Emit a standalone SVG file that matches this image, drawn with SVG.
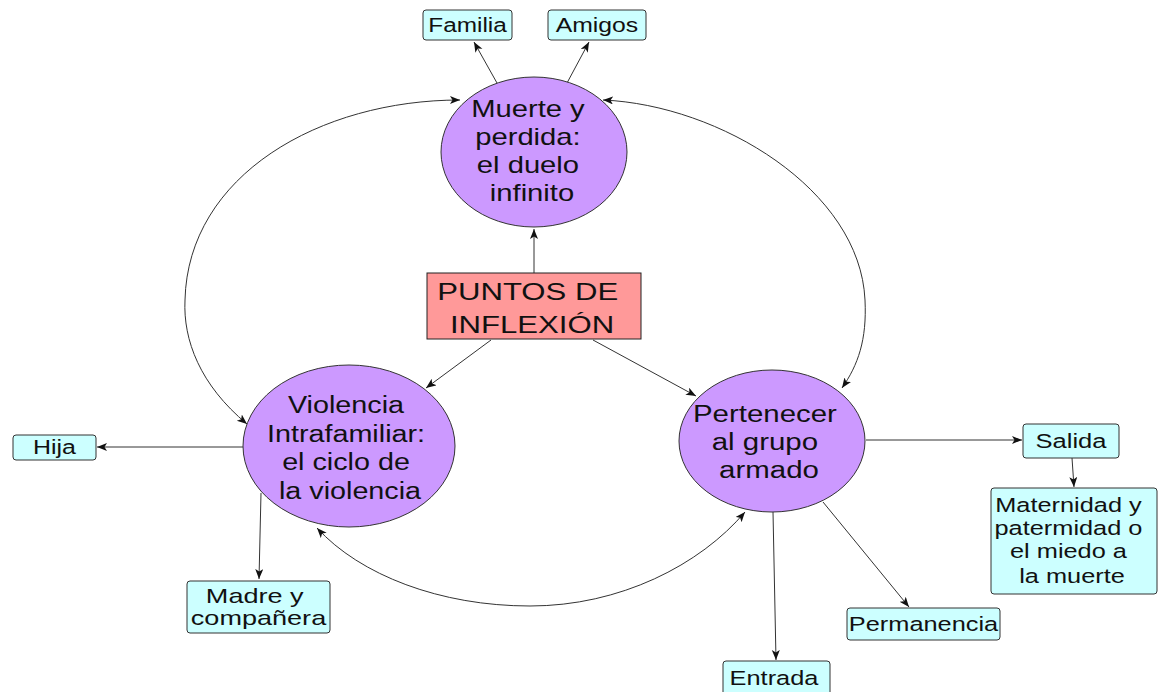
<svg xmlns="http://www.w3.org/2000/svg" width="1160" height="692" viewBox="0 0 1160 692">
<style>
  .ell { fill: #cc99ff; stroke: #333; stroke-width: 1; }
  .box { fill: #ccffff; stroke: #333; stroke-width: 1; }
  .root { fill: #ff9999; stroke: #222; stroke-width: 1; }
  .t { font-family: "Liberation Sans", Arial, sans-serif; fill: #111; text-anchor: middle; }
  .big { font-size: 23px; }
  .sm { font-size: 19.5px; }
  .conn path, .conn line { fill: none; stroke: #333; stroke-width: 1; }
</style>
<defs>
  <marker id="ah" markerUnits="userSpaceOnUse" markerWidth="12" markerHeight="10" refX="10" refY="4" orient="auto-start-reverse">
    <path d="M0,0 L10,4 L0,8 L2.5,4 z" fill="#111"/>
  </marker>
</defs>
<rect width="1160" height="692" fill="#fff"/>

<g class="conn">
  <line x1="534" y1="273" x2="534" y2="229" marker-end="url(#ah)"/>
  <line x1="491" y1="340" x2="426" y2="388" marker-end="url(#ah)"/>
  <line x1="593" y1="340" x2="696" y2="396" marker-end="url(#ah)"/>
  <line x1="497" y1="83" x2="474" y2="42" marker-end="url(#ah)"/>
  <line x1="567" y1="83" x2="589" y2="42" marker-end="url(#ah)"/>
  <path d="M 247 424 C 200 385, 183 340, 185 300 C 188 175, 320 100, 460 100" marker-start="url(#ah)" marker-end="url(#ah)"/>
  <path d="M 603 100 C 720 105, 860 190, 865 300 C 867 340, 858 365, 842 388" marker-start="url(#ah)" marker-end="url(#ah)"/>
  <path d="M 317 528 C 360 575, 440 606, 530 606 C 620 606, 700 565, 745 512" marker-start="url(#ah)" marker-end="url(#ah)"/>
  <line x1="243" y1="447" x2="97" y2="447" marker-end="url(#ah)"/>
  <line x1="261" y1="493" x2="259" y2="579" marker-end="url(#ah)"/>
  <line x1="866" y1="440" x2="1022" y2="440" marker-end="url(#ah)"/>
  <line x1="1072" y1="458" x2="1074" y2="487" marker-end="url(#ah)"/>
  <line x1="773" y1="512" x2="776" y2="660" marker-end="url(#ah)"/>
  <line x1="823" y1="502" x2="909" y2="607" marker-end="url(#ah)"/>
</g>

<g id="familia">
  <rect class="box" x="423" y="10" width="89" height="30" rx="3"/>
  <text class="t sm" transform="translate(467.5,0) scale(1.25,1)"><tspan x="0" y="32">Familia</tspan></text>
</g>
<g id="amigos">
  <rect class="box" x="548" y="10" width="98" height="30" rx="3"/>
  <text class="t sm" transform="translate(597,0) scale(1.27,1)"><tspan x="0" y="32">Amigos</tspan></text>
</g>
<g id="muerte">
  <ellipse class="ell" cx="534" cy="152" rx="93" ry="75"/>
  <text class="t big" transform="translate(532,0) scale(1.27,1)">
    <tspan x="0" y="117">Muerte y</tspan>
    <tspan x="0" y="145">perdida:</tspan>
    <tspan x="0" y="173">el duelo</tspan>
    <tspan x="0" y="201">infinito</tspan>
  </text>
</g>
<g id="puntos">
  <rect class="root" x="427" y="273" width="214" height="66"/>
  <text class="t" font-size="24.5" transform="translate(532,0) scale(1.27,1)">
    <tspan x="0" y="300">PUNTOS DE</tspan>
    <tspan x="0" y="333">INFLEXIÓN</tspan>
  </text>
</g>
<g id="violencia">
  <ellipse class="ell" cx="349" cy="446" rx="106" ry="81"/>
  <text class="t big" transform="translate(350,0) scale(1.25,1)">
    <tspan x="0" y="413">Violencia</tspan>
    <tspan x="0" y="442">Intrafamiliar:</tspan>
    <tspan x="0" y="470.5">el ciclo de</tspan>
    <tspan x="0" y="499">la violencia</tspan>
  </text>
</g>
<g id="pertenecer">
  <ellipse class="ell" cx="772" cy="441" rx="93" ry="71"/>
  <text class="t big" transform="translate(769,0) scale(1.28,1)">
    <tspan x="0" y="422">Pertenecer</tspan>
    <tspan x="0" y="450">al grupo</tspan>
    <tspan x="0" y="478">armado</tspan>
  </text>
</g>
<g id="hija">
  <rect class="box" x="13" y="435" width="83" height="25" rx="3"/>
  <text class="t sm" transform="translate(54.5,0) scale(1.28,1)"><tspan x="0" y="454">Hija</tspan></text>
</g>
<g id="madre">
  <rect class="box" x="187" y="581" width="143" height="52" rx="3"/>
  <text class="t" font-size="20.5" transform="translate(258.5,0) scale(1.32,1)">
    <tspan x="0" y="603">Madre y</tspan>
    <tspan x="0" y="625">compañera</tspan>
  </text>
</g>
<g id="salida">
  <rect class="box" x="1023" y="424" width="96" height="34" rx="3"/>
  <text class="t sm" transform="translate(1071,0) scale(1.31,1)"><tspan x="0" y="448">Salida</tspan></text>
</g>
<g id="maternidad">
  <rect class="box" x="991" y="488" width="166" height="106" rx="3"/>
  <text class="t sm" transform="translate(1072,0) scale(1.3,1)">
    <tspan x="0" y="512">Maternidad y</tspan>
    <tspan x="0" y="535">patermidad o</tspan>
    <tspan x="0" y="558.5">el miedo a</tspan>
    <tspan x="0" y="583">la muerte</tspan>
  </text>
</g>
<g id="permanencia">
  <rect class="box" x="847" y="608" width="153" height="32" rx="3"/>
  <text class="t sm" transform="translate(923.5,0) scale(1.3,1)"><tspan x="0" y="631">Permanencia</tspan></text>
</g>
<g id="entrada">
  <rect class="box" x="723" y="661" width="107" height="40" rx="3"/>
  <text class="t sm" transform="translate(774,0) scale(1.3,1)"><tspan x="0" y="685">Entrada</tspan></text>
</g>
</svg>
